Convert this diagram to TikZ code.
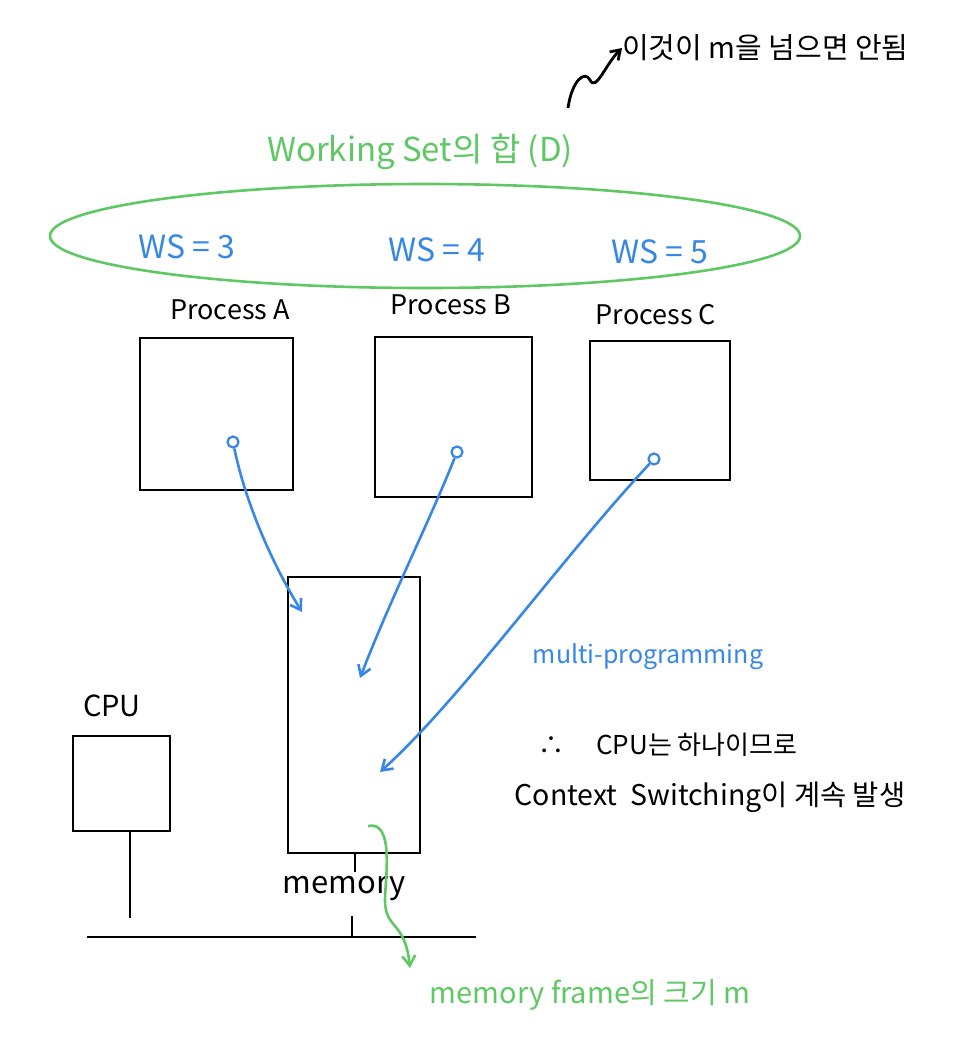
\documentclass[tikz,border=0pt]{standalone}
\usepackage{fontspec}
\setmainfont{Noto Sans CJK KR}
\usetikzlibrary{arrows.meta,shapes.geometric}
\definecolor{hgreen}{RGB}{95,200,100}
\definecolor{hblue}{RGB}{55,135,230}
\newcommand{\fsz}[1]{\fontsize{#1}{#1}\selectfont}
\begin{document}
\begin{tikzpicture}[x=1pt,y=-1pt,
  box/.style={draw=black,line width=2.8pt},
  blk/.style={text=black,inner sep=0pt},
  grn/.style={text=hgreen,inner sep=0pt},
  blu/.style={text=hblue,inner sep=0pt},
  barrow/.style={draw=hblue,line width=2.6pt,-{Straight Barb[length=10pt,width=13pt]}},
  dot/.style={circle,draw=hblue,line width=2.2pt,minimum size=11pt,inner sep=0pt},
  line/.style={draw=black,line width=2.8pt}]
\path[fill=white] (0,0) rectangle (967,1053);
\useasboundingbox (0,0) rectangle (967,1053);

% ellipse
\node[draw=hgreen,line width=2.6pt,ellipse,minimum width=750pt,minimum height=104pt,inner sep=0pt] (ell) at (425,236) {};
\node[grn,font=\fsz{33}] (wsum) at (420,152) {Working Set의 합 (D)};
\node[blu,font=\fsz{32}] (ws3) at (187,247) {WS = 3};
\node[blu,font=\fsz{32}] (ws4) at (437,250) {WS = 4};
\node[blu,font=\fsz{32}] (ws5) at (660,252) {WS = 5};

% top note
\node[blk,font=\fsz{29},anchor=west] (note) at (622,48) {이것이 m을 넘으면 안됨};
\coordinate (ns) at (568,108);
\draw[line,-{Straight Barb[length=9pt,width=12pt]}] (ns) .. controls (572,80) and (585,70) .. (590,80) .. controls (596,92) and (605,65) .. (note.west);

% processes
\node[blk,font=\fsz{27}] (pa) at (230,310) {Process A};
\node[blk,font=\fsz{27}] (pb) at (451,305) {Process B};
\node[blk,font=\fsz{27}] (pc) at (656,315) {Process C};
\node[box,minimum width=153pt,minimum height=152pt,inner sep=0pt] (ba) at (216.5,414) {};
\node[box,minimum width=157pt,minimum height=160pt,inner sep=0pt] (bb) at (453.5,417) {};
\node[box,minimum width=140pt,minimum height=139pt,inner sep=0pt] (bc) at (660,410.5) {};
\node[dot] (da) at (233,442) {};
\node[dot] (db) at (457,452) {};
\node[dot] (dc) at (654,459) {};

% memory
\node[box,minimum width=132pt,minimum height=276pt,inner sep=0pt] (mem) at (354,715) {};
\coordinate (ta) at (302,612);
\coordinate (tb) at (360,678);
\coordinate (tc) at (380,772);
\draw[barrow] (da) .. controls (245,500) and (270,560) .. (ta);
\draw[barrow] (db) .. controls (430,520) and (390,600) .. (tb);
\draw[barrow] (dc) .. controls (560,560) and (460,700) .. (tc);

\node[blu,font=\fsz{25}] (mp) at (648,657) {multi-programming};
\node[blk,font=\fsz{26}] (cpu1) at (668,745) {∴ \quad CPU는 하나이므로};
\node[blk,font=\fsz{28.5}] (cs) at (710,797) {Context \ Switching이 계속 발생};

% cpu
\node[blk,font=\fsz{29}] (cpul) at (112,706) {CPU};
\node[box,minimum width=97pt,minimum height=95pt,inner sep=0pt] (cpu) at (121.5,783.5) {};
\coordinate (bus1) at (87,937);
\coordinate (bus2) at (476,937);
\draw[line] (bus1) -- (bus2);
\draw[line] (cpu.south -| 130,0) -- (130,918);
\node[blk,font=\fsz{31}] (meml) at (344,888) {memory};
\draw[line,line width=2.2pt] (355,854) -- (355,872);
\draw[line,line width=2.2pt] (352,916) -- (352,937);

% green arrow
\coordinate (gs) at (368,826);
\coordinate (ge) at (410,968);
\draw[draw=hgreen,line width=2.6pt,-{Straight Barb[length=10pt,width=13pt]}] (gs) .. controls (395,820) and (385,880) .. (385,900) .. controls (385,930) and (405,920) .. (ge);
\node[grn,font=\fsz{29}] (mf) at (590,995) {memory frame의 크기 m};
\end{tikzpicture}
\end{document}
